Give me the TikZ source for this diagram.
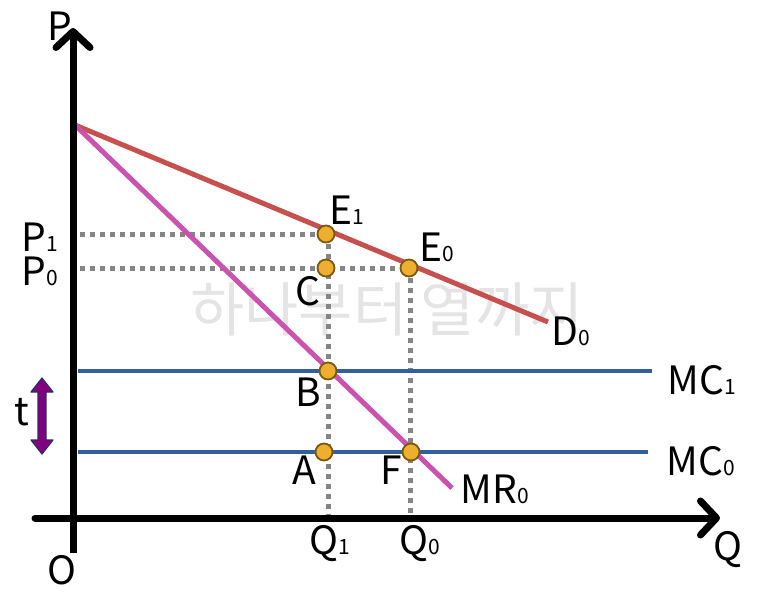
\documentclass[tikz,border=0pt]{standalone}
\usepackage{fontspec}
\setmainfont{Noto Sans CJK KR}
\usetikzlibrary{arrows.meta}
\definecolor{dred}{HTML}{C6504E}
\definecolor{mrpink}{HTML}{C953AE}
\definecolor{mcblue}{HTML}{31609C}
\definecolor{dotgray}{HTML}{858585}
\definecolor{ptfill}{HTML}{EEAE2E}
\definecolor{ptdraw}{HTML}{7A5A12}
\definecolor{tpurple}{HTML}{82007E}
\definecolor{tedge}{HTML}{2E2E66}
\definecolor{wmark}{HTML}{E4E4E4}
\newcommand\sbs[1]{{\fontsize{21}{21}\selectfont #1}}
\begin{document}
\begin{tikzpicture}[x=1pt,y=-1pt,
  axis/.style={line width=7pt, line cap=round, -{Straight Barb[round,length=16pt,width=34pt]}},
  dline/.style={dred, line width=5pt},
  mrline/.style={mrpink, line width=5pt},
  mcline/.style={mcblue, line width=4pt},
  guide/.style={dotgray, line width=5pt, dash pattern=on 5pt off 5pt},
  pt/.style={circle, fill=ptfill, draw=ptdraw, line width=1.8pt, minimum size=17pt, inner sep=0pt},
  lab/.style={inner sep=0pt, font=\fontsize{39}{39}\selectfont},
  wm/.style={inner sep=0pt, text=wmark, font=\fontsize{59}{59}\selectfont}]
\useasboundingbox (0,0) rectangle (759,600);
\node[wm] (wmk) at (387,309) {하나부터 열까지};
% coordinates
\coordinate (orig) at (73,518);
\coordinate (ytop) at (73,28);
\coordinate (ybot) at (73,553);
\coordinate (xl) at (35,518);
\coordinate (xr) at (720,518);
\coordinate (d0s) at (75,125);
\coordinate (d0e) at (548,322);
\coordinate (mrs) at (75,125);
\coordinate (mre) at (452,488);
\coordinate (mc1s) at (78,371);
\coordinate (mc1e) at (652,371);
\coordinate (mc0s) at (78,452);
\coordinate (mc0e) at (648,452);
\coordinate (p1s) at (80,234);
\coordinate (p0s) at (80,268);
\coordinate (q1b) at (328,518);
\coordinate (q0b) at (410,518);
% guides
\draw[guide] (p1s) -- (326,234);
\draw[guide] (p0s) -- (409,268);
\draw[guide] (328,234) -- (q1b);
\draw[guide] (410,268) -- (q0b);
% curves
\draw[mcline] (mc1s) -- (mc1e);
\draw[mcline] (mc0s) -- (mc0e);
\draw[dline] (d0s) -- (d0e);
\draw[mrline] (mrs) -- (mre);
% axes
\draw[line width=7pt] (ybot) -- (orig);
\draw[axis] (orig) -- (ytop);
\draw[axis] (xl) -- (xr);
% t arrow
\draw[tedge, fill=tpurple, line width=1.2pt, line join=round]
  (42,378) -- (53,392) -- (46,392) -- (46,440) -- (53,440) -- (42,454)
  -- (31,440) -- (38,440) -- (38,392) -- (31,392) -- cycle;
% points
\node[pt] (E1) at (326,234) {};
\node[pt] (C) at (326,268) {};
\node[pt] (E0) at (409,268) {};
\node[pt] (B) at (328,371) {};
\node[pt] (A) at (324,452) {};
\node[pt] (F) at (411,452) {};
% labels
\node[lab] (lP) at (60,26) {P};
\node[lab] (lO) at (62,570) {O};
\node[lab] (lQ) at (728,550) {Q};
\node[lab] (lE1) at (347,210) {E\sbs{1}};
\node[lab] (lE0) at (437,247) {E\sbs{0}};
\node[lab] (lC) at (308,291) {C};
\node[lab] (lB) at (308,392) {B};
\node[lab] (lA) at (304,470) {A};
\node[lab] (lF) at (391,470) {F};
\node[lab] (lD0) at (571,331) {D\sbs{0}};
\node[lab] (lMR0) at (495,489) {MR\sbs{0}};
\node[lab] (lMC1) at (702,380) {MC\sbs{1}};
\node[lab] (lMC0) at (701,461) {MC\sbs{0}};
\node[lab] (lP1) at (40,237) {P\sbs{1}};
\node[lab] (lP0) at (40,271) {P\sbs{0}};
\node[lab] (lt) at (22,412) {t};
\node[lab] (lQ1) at (330,544) {Q\sbs{1}};
\node[lab] (lQ0) at (420,544) {Q\sbs{0}};
\end{tikzpicture}
\end{document}
